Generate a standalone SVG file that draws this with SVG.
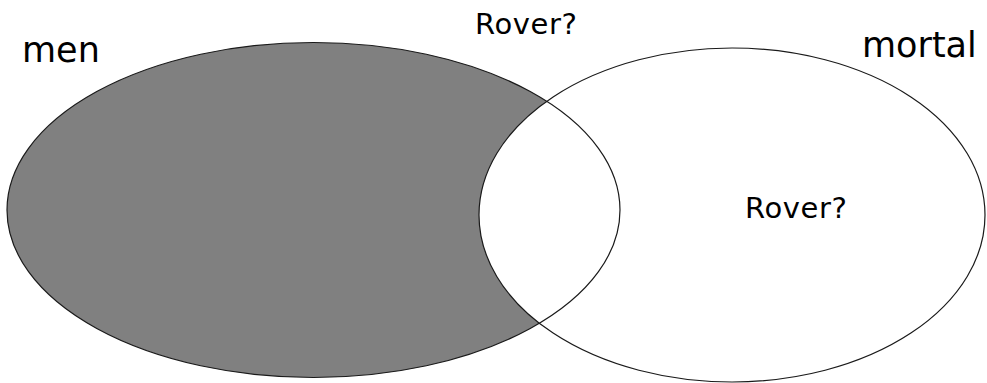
<svg xmlns="http://www.w3.org/2000/svg" width="987" height="383" viewBox="0 0 987 383">
<style>
.edge{fill:none;stroke:#1a1a1a;stroke-width:1.2}
.lbl{font-family:"DejaVu Sans",Verdana,sans-serif;fill:#000}
</style>
<rect width="987" height="383" fill="#fff"/>
<g id="men">
<ellipse cx="313.5" cy="210" rx="306.5" ry="167.5" fill="#808080"/>
</g>
<g id="mortal">
<ellipse cx="732" cy="215" rx="253" ry="167" fill="#fff"/>
</g>
<g id="connectors">
<ellipse class="edge" cx="313.5" cy="210" rx="306.5" ry="167.5"/>
<ellipse class="edge" cx="732" cy="215" rx="253" ry="167"/>
</g>
<g id="labels">
<text class="lbl" x="22" y="62" font-size="35">men</text>
<text class="lbl" x="862" y="57" font-size="35">mortal</text>
<text class="lbl" x="475" y="34" font-size="29" textLength="102">Rover?</text>
<text class="lbl" x="745" y="218" font-size="29" textLength="102">Rover?</text>
</g>
</svg>
